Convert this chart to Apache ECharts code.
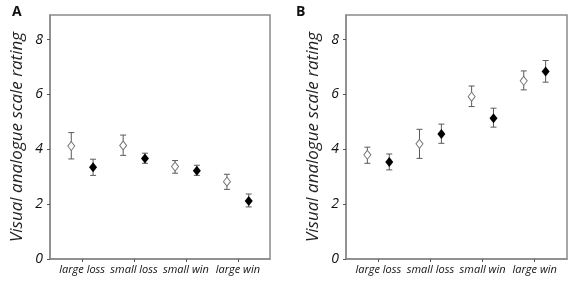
<!DOCTYPE html>
<html>
<head>
<meta charset="utf-8">
<script src="https://cdn.jsdelivr.net/npm/echarts@6/dist/echarts.min.js"></script>
<style>
html, body { margin: 0; padding: 0; background: #fff; }
#chart { width: 570px; height: 281px; }
</style>
</head>
<body>
<div id="chart"></div>
<script>
// categories on the x axis
var categories = ['large loss', 'small loss', 'small win', 'large win'];
var yTicks = [0, 2, 4, 6, 8];

// panel A: mean with error bar ends (open = first condition, filled = second)
var aOpenMean   = [4.12, 4.14, 3.37, 2.82];
var aOpenLow    = [3.65, 3.78, 3.13, 2.54];
var aOpenHigh   = [4.61, 4.52, 3.59, 3.09];
var aFilledMean = [3.35, 3.67, 3.22, 2.12];
var aFilledLow  = [3.05, 3.49, 3.05, 1.90];
var aFilledHigh = [3.64, 3.86, 3.42, 2.37];

// panel B
var bOpenMean   = [3.80, 4.20, 5.92, 6.50];
var bOpenLow    = [3.49, 3.67, 5.56, 6.17];
var bOpenHigh   = [4.08, 4.73, 6.31, 6.86];
var bFilledMean = [3.54, 4.56, 5.13, 6.84];
var bFilledLow  = [3.25, 4.22, 4.81, 6.45];
var bFilledHigh = [3.83, 4.92, 5.50, 7.24];

var OFFSET = 0.21;   // horizontal dodge of the two markers around each category
var FONT = '"Open Sans", "Noto Sans", sans-serif';

function pts(mean, shift) {
	return mean.map(function (v, i) { return [i + shift, v]; });
}
function bars(low, high, shift) {
	return low.map(function (v, i) { return [i + shift, v, high[i]]; });
}
function errRender(params, api) {
	var x = api.value(0);
	var p1 = api.coord([x, api.value(1)]);
	var p2 = api.coord([x, api.value(2)]);
	var st = { stroke: '#5a5a5a', lineWidth: 1 };
	return {
		type: 'group',
		children: [
			{ type: 'line', shape: { x1: p1[0], y1: p1[1], x2: p2[0], y2: p2[1] }, style: st },
			{ type: 'line', shape: { x1: p1[0] - 3, y1: p1[1], x2: p1[0] + 3, y2: p1[1] }, style: st },
			{ type: 'line', shape: { x1: p2[0] - 3, y1: p2[1], x2: p2[0] + 3, y2: p2[1] }, style: st }
		]
	};
}

function xAxis(idx) {
	return {
		gridIndex: idx, type: 'value', min: -0.62, max: 3.62,
		axisLine: { onZero: false, lineStyle: { color: '#8a8a8a', width: 1.5 } },
		axisTick: { customValues: [0, 1, 2, 3], length: 3, lineStyle: { color: '#555' } },
		axisLabel: {
			customValues: [0, 1, 2, 3], margin: 5,
			formatter: function (v) { return categories[Math.round(v)]; },
			fontFamily: FONT, fontStyle: 'italic', fontSize: 11, color: '#111'
		},
		splitLine: { show: false }
	};
}
function yAxis(idx) {
	return {
		gridIndex: idx, type: 'value', min: 0, max: 8.9,
		name: 'Visual analogue scale rating', nameLocation: 'middle', nameRotate: 90, nameGap: 24,
		nameTextStyle: { fontFamily: FONT, fontStyle: 'italic', fontSize: 17, color: '#222' },
		axisLine: { show: true, onZero: false, lineStyle: { color: '#8a8a8a', width: 1.5 } },
		axisTick: { show: true, customValues: yTicks, length: 3, lineStyle: { color: '#555' } },
		axisLabel: {
			customValues: yTicks, margin: 7,
			fontFamily: FONT, fontStyle: 'italic', fontSize: 14, color: '#111'
		},
		splitLine: { show: false }
	};
}
function panelSeries(idx, oMean, oLow, oHigh, fMean, fLow, fHigh) {
	return [
		{ type: 'custom', xAxisIndex: idx, yAxisIndex: idx, z: 1, renderItem: errRender, data: bars(oLow, oHigh, -OFFSET) },
		{ type: 'custom', xAxisIndex: idx, yAxisIndex: idx, z: 1, renderItem: errRender, data: bars(fLow, fHigh, OFFSET) },
		{ type: 'scatter', xAxisIndex: idx, yAxisIndex: idx, z: 3, symbol: 'diamond', symbolSize: [7, 9],
		  itemStyle: { color: '#fff', borderColor: '#777', borderWidth: 1, opacity: 1 }, data: pts(oMean, -OFFSET) },
		{ type: 'scatter', xAxisIndex: idx, yAxisIndex: idx, z: 3, symbol: 'diamond', symbolSize: [8, 10],
		  itemStyle: { color: '#000', opacity: 1 }, data: pts(fMean, OFFSET) }
	];
}

var chart = echarts.init(document.getElementById('chart'));
chart.setOption({
	animation: false,
	backgroundColor: '#fff',
	title: [
		{ text: 'A', left: 7, top: 0, textStyle: { fontFamily: FONT, fontWeight: 'bold', fontSize: 14, color: '#111' } },
		{ text: 'B', left: 291, top: 0, textStyle: { fontFamily: FONT, fontWeight: 'bold', fontSize: 14, color: '#111' } }
	],
	grid: [
		{ left: 50, top: 15, width: 220, height: 244, show: true, borderColor: '#8a8a8a', borderWidth: 1.5, backgroundColor: 'transparent' },
		{ left: 346, top: 15, width: 221, height: 244, show: true, borderColor: '#8a8a8a', borderWidth: 1.5, backgroundColor: 'transparent' }
	],
	xAxis: [xAxis(0), xAxis(1)],
	yAxis: [yAxis(0), yAxis(1)],
	series: panelSeries(0, aOpenMean, aOpenLow, aOpenHigh, aFilledMean, aFilledLow, aFilledHigh)
		.concat(panelSeries(1, bOpenMean, bOpenLow, bOpenHigh, bFilledMean, bFilledLow, bFilledHigh))
});
</script>
</body>
</html>
